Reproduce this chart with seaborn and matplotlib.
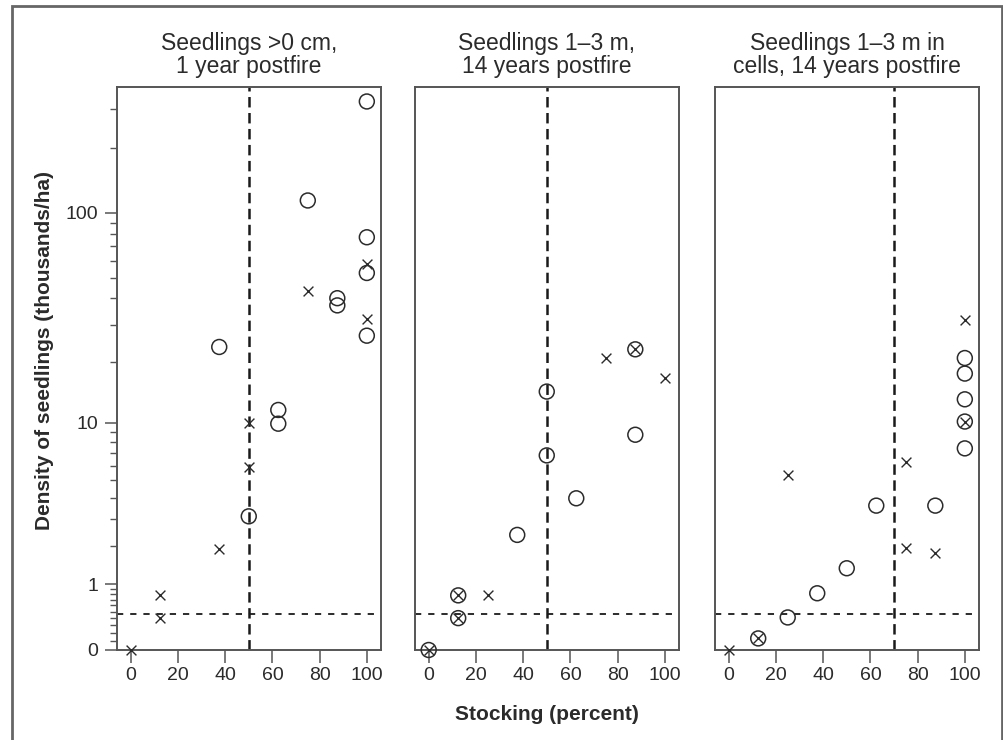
import numpy as np
import pandas as pd
import matplotlib
matplotlib.use("Agg")
import matplotlib.pyplot as plt
from matplotlib.patches import Rectangle
import seaborn as sns

# stocking (percent) and density of seedlings (thousands/ha)
p1_circle_x = [37.5, 50, 62.5, 62.5, 75, 87.5, 87.5, 100, 100, 100, 100]
p1_circle_y = [23.5, 3.1, 11.6, 9.9, 114, 40, 37, 326, 77, 52.5, 26.6]
p1_cross_x = [0, 12.5, 12.5, 37.5, 50, 50, 75, 100, 100]
p1_cross_y = [0, 0.78, 0.40, 1.9, 10, 5.9, 43, 58, 32]

p2_circle_x = [0, 12.5, 12.5, 37.5, 50, 50, 62.5, 87.5, 87.5]
p2_circle_y = [0, 0.40, 0.78, 2.37, 6.8, 14.3, 3.96, 8.7, 22.9]
p2_cross_x = [0, 12.5, 12.5, 25, 75, 87.5, 100]
p2_cross_y = [0, 0.40, 0.78, 0.78, 20.8, 22.9, 16.6]

p3_circle_x = [12.5, 25, 37.5, 50, 62.5, 87.5, 100, 100, 100, 100, 100]
p3_circle_y = [0.13, 0.41, 0.82, 1.37, 3.59, 3.59, 7.4, 10.15, 13.1, 17.5, 20.8]
p3_cross_x = [0, 12.5, 25, 75, 75, 87.5, 100, 100]
p3_cross_y = [0, 0.13, 5.35, 6.3, 1.93, 1.79, 10.15, 31.4]

titles = ["Seedlings >0 cm,\n1 year postfire",
          "Seedlings 1\u20133 m,\n14 years postfire",
          "Seedlings 1\u20133 m in\ncells, 14 years postfire"]
stocking_cut = [50, 50, 70]
density_cut = 0.46

sns.set_style('ticks')
plt.rcParams['font.family'] = ['Liberation Sans', 'DejaVu Sans']
plt.rcParams['lines.scale_dashes'] = False

ink = '#2b2b2b'
frame = '#555555'


def fwd(y):
    return np.log10(np.asarray(y, dtype=float) + 1)


def inv(y):
    return 10 ** np.asarray(y, dtype=float) - 1


fig = plt.figure(figsize=(10.04, 7.40), dpi=100)
W, H = 1004, 740

# outer frame around the whole figure
fig.patches.append(Rectangle((11.7 / W, -0.02), 990 / W, 1.02 - 5.7 / H,
                             transform=fig.transFigure, fill=False,
                             edgecolor='#666666', lw=2))

panels = [(p1_circle_x, p1_circle_y, p1_cross_x, p1_cross_y),
          (p2_circle_x, p2_circle_y, p2_cross_x, p2_cross_y),
          (p3_circle_x, p3_circle_y, p3_cross_x, p3_cross_y)]
lefts = [117, 415, 715]

for i, (cx, cy, xx, xy) in enumerate(panels):
    ax = fig.add_axes([lefts[i] / W, (H - 650) / H, 264 / W, 563 / H])
    ax.set_yscale('function', functions=(fwd, inv))

    circ = pd.DataFrame({'stocking': cx, 'density': cy})
    cross = pd.DataFrame({'stocking': xx, 'density': xy})

    ax.axvline(stocking_cut[i], color='#1a1a1a', lw=1.8,
               linestyle=(0, (7.5, 4)), zorder=1)
    ax.axhline(density_cut, color='#1a1a1a', lw=1.3,
               linestyle=(0, (4.5, 5)), zorder=1)

    sns.scatterplot(data=circ, x='stocking', y='density', ax=ax, marker='o',
                    s=115, facecolor='none', edgecolor=ink, linewidth=1.1,
                    zorder=3, clip_on=False)
    sns.scatterplot(data=cross, x='stocking', y='density', ax=ax, marker='x',
                    s=50, color=ink, linewidth=1.0, zorder=3, clip_on=False)

    ax.set_xlim(-5.8, 106)
    ax.set_ylim(0, 380)
    ax.set_xticks([0, 20, 40, 60, 80, 100])
    ax.tick_params(axis='x', direction='out', length=9.5, width=1.1,
                   color=frame, labelsize=14, labelcolor=ink, pad=3)
    ax.set_xlabel('')
    ax.set_ylabel('')

    if i == 0:
        ax.set_yticks([0, 1, 10, 100])
        ax.set_yticklabels(['0', '1', '10', '100'])
        minor = ([k / 10 for k in range(1, 10)] + list(range(2, 10))
                 + list(range(20, 100, 10)) + [200, 300])
        ax.set_yticks(minor, minor=True)
        ax.tick_params(axis='y', which='major', direction='out', length=8.5,
                       width=1.1, color=frame, labelsize=14, labelcolor=ink,
                       pad=5)
        ax.tick_params(axis='y', which='minor', direction='out', length=5,
                       width=1.0, color=frame)
    else:
        ax.set_yticks([])
        ax.set_yticks([], minor=True)

    for sp in ax.spines.values():
        sp.set_visible(True)
        sp.set_color(frame)
        sp.set_linewidth(1.4)

    fig.text((lefts[i] + 132) / W, 1 - 55 / H, titles[i], ha='center',
             va='center', fontsize=16.5, color=ink, linespacing=1.05)

fig.text(45 / W, 1 - 351 / H, 'Density of seedlings (thousands/ha)',
         rotation=90, ha='center', va='center', fontsize=15,
         fontweight='bold', color=ink)
fig.text(547 / W, 1 - 715 / H, 'Stocking (percent)', ha='center',
         va='center', fontsize=15, fontweight='bold', color=ink)

fig.savefig('out.png', dpi=100, facecolor='white')
